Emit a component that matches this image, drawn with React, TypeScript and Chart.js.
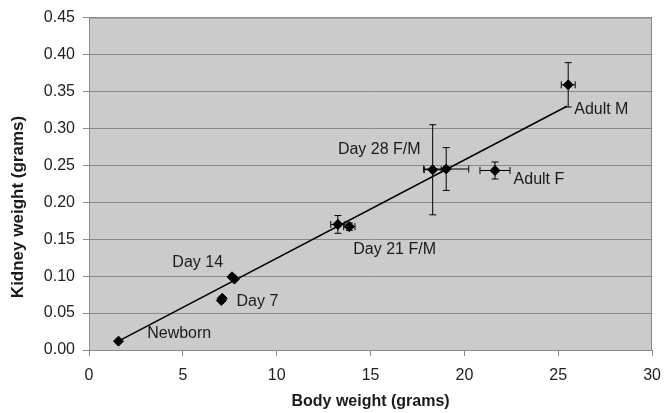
import { useEffect, useRef } from "react";
import { Chart, registerables } from "chart.js";

Chart.register(...registerables);

// ---- data ----
const groupNames = ["Newborn", "Day 7 F", "Day 7 M", "Day 14 F", "Day 14 M", "Day 21 F", "Day 21 M", "Day 28 F", "Day 28 M", "Adult F", "Adult M"];
const bodyWeight = [1.57, 7.05, 7.1, 7.62, 7.75, 13.26, 13.87, 18.31, 19.03, 21.63, 25.53];
const bodyWeightErr = [0, 0, 0, 0.06, 0.06, 0.38, 0.3, 0.45, 1.2, 0.8, 0.37];
const kidneyWeight = [0.012, 0.067, 0.07, 0.099, 0.096, 0.17, 0.167, 0.244, 0.245, 0.243, 0.359];
const kidneyWeightErr = [0, 0, 0, 0.002, 0.002, 0.012, 0.005, 0.061, 0.029, 0.0115, 0.03];
const trendX = [1.57, 25.46];
const trendY = [0.012, 0.33];
const xTicks = [0, 5, 10, 15, 20, 25, 30];
const yTicks = [0, 0.05, 0.1, 0.15, 0.2, 0.25, 0.3, 0.35, 0.4, 0.45];
const labelTexts = ["Newborn", "Day 7", "Day 14", "Day 21 F/M", "Day 28 F/M", "Adult F", "Adult M"];
// label anchors (left edge, vertical middle) in data units
const labelAnchorX = [3.1, 7.86, 4.44, 14.08, 13.26, 22.62, 25.85];
const labelAnchorY = [0.022, 0.066, 0.118, 0.136, 0.271, 0.231, 0.325];

const FONT = "'Liberation Sans', Arial, sans-serif";

const decorPlugin = {
  id: "decor",
  beforeDraw(chart: any) {
    const { ctx, chartArea: a } = chart;
    ctx.save();
    ctx.fillStyle = "#cbcbcb";
    ctx.fillRect(a.left, a.top, a.right - a.left, a.bottom - a.top);
    ctx.restore();
  },
  beforeDatasetsDraw(chart: any) {
    const { ctx, chartArea: a } = chart;
    ctx.save();
    ctx.strokeStyle = "#8a8a8a";
    ctx.lineWidth = 1;
    ctx.beginPath();
    ctx.moveTo(a.left, a.top + 0.5);
    ctx.lineTo(Math.round(a.right) - 0.5, a.top + 0.5);
    ctx.lineTo(Math.round(a.right) - 0.5, a.bottom);
    ctx.stroke();
    ctx.restore();
  },
  afterDatasetsDraw(chart: any) {
    const { ctx } = chart;
    const xs = chart.scales.x;
    const ys = chart.scales.y;
    ctx.save();
    ctx.strokeStyle = "#000";
    ctx.lineWidth = 1;
    const cap = 3.5;
    for (let i = 0; i < bodyWeight.length; i++) {
      const px = xs.getPixelForValue(bodyWeight[i]);
      const py = ys.getPixelForValue(kidneyWeight[i]);
      if (kidneyWeightErr[i] > 0) {
        const y1 = ys.getPixelForValue(kidneyWeight[i] + kidneyWeightErr[i]);
        const y2 = ys.getPixelForValue(kidneyWeight[i] - kidneyWeightErr[i]);
        ctx.beginPath();
        ctx.moveTo(px, y1);
        ctx.lineTo(px, y2);
        ctx.moveTo(px - cap, y1);
        ctx.lineTo(px + cap, y1);
        ctx.moveTo(px - cap, y2);
        ctx.lineTo(px + cap, y2);
        ctx.stroke();
      }
      if (bodyWeightErr[i] > 0) {
        const x1 = xs.getPixelForValue(bodyWeight[i] - bodyWeightErr[i]);
        const x2 = xs.getPixelForValue(bodyWeight[i] + bodyWeightErr[i]);
        ctx.beginPath();
        ctx.moveTo(x1, py);
        ctx.lineTo(x2, py);
        ctx.moveTo(x1, py - cap);
        ctx.lineTo(x1, py + cap);
        ctx.moveTo(x2, py - cap);
        ctx.lineTo(x2, py + cap);
        ctx.stroke();
      }
    }
    // point labels
    ctx.fillStyle = "#1a1a1a";
    ctx.font = `16px ${FONT}`;
    ctx.textAlign = "left";
    ctx.textBaseline = "middle";
    for (let i = 0; i < labelTexts.length; i++) {
      ctx.fillText(labelTexts[i], xs.getPixelForValue(labelAnchorX[i]), ys.getPixelForValue(labelAnchorY[i]));
    }
    // y axis title
    ctx.font = `bold 17px ${FONT}`;
    ctx.textAlign = "center";
    ctx.translate(18, 207);
    ctx.rotate(-Math.PI / 2);
    ctx.fillText("Kidney weight (grams)", 0, 0);
    ctx.restore();
  },
};

export default function App() {
  const ref = useRef<HTMLCanvasElement>(null);
  useEffect(() => {
    if (!ref.current) return;
    const chart = new Chart(ref.current, {
      type: "scatter",
      data: {
        datasets: [
          {
            label: "Kidney vs body weight",
            data: bodyWeight.map((x, i) => ({ x, y: kidneyWeight[i] })),
            pointStyle: "rectRot",
            pointRadius: 5,
            pointBackgroundColor: "#000",
            pointBorderColor: "#000",
            pointBorderWidth: 1,
            order: 1,
          },
          {
            type: "line",
            label: "Trend",
            data: trendX.map((x, i) => ({ x, y: trendY[i] })),
            borderColor: "#000",
            borderWidth: 1.5,
            pointRadius: 0,
            showLine: true,
            fill: false,
            order: 2,
          } as any,
        ],
      },
      options: {
        responsive: false,
        animation: false,
        devicePixelRatio: 1,
        layout: { padding: { left: 0, right: 8, top: 13.5, bottom: 0 } },
        plugins: { legend: { display: false }, tooltip: { enabled: false } },
        scales: {
          x: {
            type: "linear",
            min: 0,
            max: 30,
            afterFit: (s: any) => {
              s.height = 63;
            },
            afterBuildTicks: (s: any) => {
              s.ticks = xTicks.map((v) => ({ value: v }));
            },
            grid: { drawOnChartArea: false, drawTicks: true, tickLength: 6, color: "#8a8a8a" },
            border: { display: true, color: "#8a8a8a" },
            ticks: { font: { family: FONT, size: 16 }, color: "#222", padding: 10, maxRotation: 0 },
            title: {
              display: true,
              text: "Body weight (grams)",
              font: { family: FONT, size: 16, weight: "bold" },
              color: "#1a1a1a",
              padding: { top: 0, bottom: 2 },
            },
          },
          y: {
            type: "linear",
            min: 0,
            max: 0.45,
            afterFit: (s: any) => {
              s.width = 89;
            },
            afterBuildTicks: (s: any) => {
              s.ticks = yTicks.map((v) => ({ value: v }));
            },
            grid: { drawOnChartArea: true, drawTicks: true, tickLength: 6, color: "#8a8a8a" },
            border: { display: true, color: "#8a8a8a" },
            ticks: {
              font: { family: FONT, size: 16 },
              color: "#222",
              padding: 8,
              callback: (v: any) => Number(v).toFixed(2),
            },
          },
        },
      },
      plugins: [decorPlugin],
    });
    return () => chart.destroy();
  }, []);
  return (
    <div style={{ position: "absolute", left: 0, top: 0, width: 671, height: 413, background: "#fff" }}>
      <canvas ref={ref} width={671} height={413} style={{ display: "block" }} />
    </div>
  );
}
